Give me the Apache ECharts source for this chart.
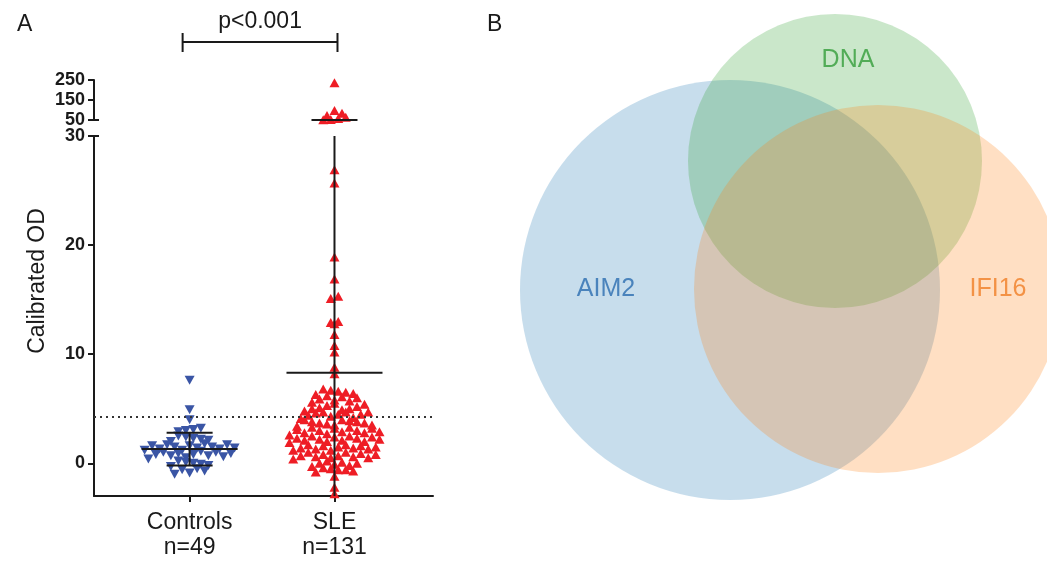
<!DOCTYPE html>
<html>
<head>
<meta charset="utf-8">
<script src="https://cdn.jsdelivr.net/npm/echarts@6/dist/echarts.min.js"></script>
<style>
  html, body { margin: 0; padding: 0; background: #fff; }
  #main { width: 1047px; height: 562px; }
</style>
</head>
<body>
<div id="main"></div>
<script>
// ---- panel A: calibrated OD per group ----
var groups = ['Controls', 'SLE'];
var groupN = [49, 131];

var controlsOD = [
  7.6, 4.9, 4.0,
  3.2, 3.1, 3.0, 2.9,
  2.5, 2.4, 2.3, 2.2, 2.1, 2.0,
  1.8, 1.7, 1.7, 1.6, 1.6, 1.5, 1.5, 1.4, 1.4, 1.3, 1.3, 1.2, 1.2, 1.1,
  1.0, 1.0, 0.9, 0.9, 0.8, 0.8, 0.7, 0.7, 0.6, 0.5, 0.4,
  0.2, 0.1, 0.0, -0.1, -0.2, -0.3,
  -0.5, -0.6, -0.7, -0.9, -1.0
];

var sleOD = [
  236, 98, 84, 73, 64, 58, 53, 51,
  26.9, 25.7, 18.9, 16.9, 15.3, 15.1, 13.0, 12.9, 12.8, 11.8, 10.8, 10.2, 8.8, 8.2,
  -2.8, -2.2, -1.2,
  -0.8, -0.7, -0.6, -0.6, -0.5, -0.4,
  -0.3, -0.2, -0.1, 0.0, 0.0, 0.1, 0.2,
  0.4, 0.5, 0.5, 0.6, 0.6, 0.7, 0.7, 0.8, 0.8, 0.9, 1.0, 1.0,
  1.2, 1.2, 1.3, 1.3, 1.4, 1.4, 1.5, 1.5, 1.6, 1.6, 1.7, 1.7,
  1.9, 2.0, 2.0, 2.1, 2.1, 2.2, 2.2, 2.3, 2.3, 2.4, 2.4, 2.5, 2.5,
  2.6, 2.7, 2.8, 2.8, 2.9, 2.9, 3.0, 3.0, 3.1, 3.2, 3.2, 3.3,
  3.3, 3.4, 3.5, 3.5, 3.6, 3.7, 3.7, 3.8, 3.8, 3.9, 4.0, 4.0,
  4.1, 4.2, 4.3, 4.4, 4.5, 4.5, 4.6, 4.7, 4.7, 4.7,
  4.8, 4.9, 5.0, 5.0, 5.1, 5.2, 5.3, 5.4,
  5.5, 5.6, 5.7, 5.8, 5.9, 6.0, 6.1, 6.2,
  6.3, 6.4, 6.5, 6.6, 6.7, 6.8
];

var groupMean = [1.3, 8.3];
var groupSD = [1.5, 42];
var cutoffOD = 4.3;
var pValueText = 'p<0.001';
var lowerTicks = [0, 10, 20, 30];
var upperTicks = [50, 150, 250];

// ---- panel B: venn ----
var vennNames = ['AIM2', 'DNA', 'IFI16'];
var vennX = [2.50, 3.55, 3.98];
var vennY = [2.72, 4.01, 2.73];
var vennR = [2.10, 1.47, 1.84];
var vennLabelX = [1.26, 3.68, 5.18];
var vennLabelY = [2.73, 5.02, 2.73];
var vennColors = ['#1f77b4', '#2ca02c', '#ff7f0e'];
var vennTextColors = ['#2a6db0', '#339e3a', '#f07e26'];

var FONT = "'Liberation Sans', Arial, sans-serif";
var INK = '#1a1a1a';
var BREAK_LO = 30, BREAK_HI = 50;

var chart = echarts.init(document.getElementById('main'));

// mean line + SD whiskers, clipped to the grid they sit in
function summaryItem(params, api) {
  var cs = params.coordSys;
  var g = api.value(0), m = api.value(1), s = api.value(2);
  var pm = api.coord([g, m]);
  var ph = api.coord([g, m + s]);
  var pl = api.coord([g, m - s]);
  var top = cs.y, bot = cs.y + cs.height;
  var st = { stroke: INK, lineWidth: 2 };
  var kids = [];
  var y1 = Math.max(ph[1], top), y2 = Math.min(pl[1], bot);
  if (y1 < y2) kids.push({ type: 'line', shape: { x1: pm[0], y1: y1, x2: pm[0], y2: y2 }, style: st });
  if (pm[1] >= top && pm[1] <= bot) kids.push({ type: 'line', shape: { x1: pm[0] - 48, y1: pm[1], x2: pm[0] + 48, y2: pm[1] }, style: st });
  if (ph[1] >= top - 1 && ph[1] <= bot) kids.push({ type: 'line', shape: { x1: pm[0] - 23, y1: ph[1], x2: pm[0] + 23, y2: ph[1] }, style: st });
  if (pl[1] >= top && pl[1] <= bot + 1) kids.push({ type: 'line', shape: { x1: pm[0] - 23, y1: pl[1], x2: pm[0] + 23, y2: pl[1] }, style: st });
  return { type: 'group', children: kids };
}

function bracketItem(params, api) {
  var cs = params.coordSys;
  var p0 = api.coord([api.value(0), BREAK_HI]);
  var p1 = api.coord([api.value(1), BREAK_HI]);
  var x0 = p0[0] - 7, x1 = p1[0] + 3;
  var y = cs.y - 38;
  var st = { stroke: INK, lineWidth: 2 };
  return {
    type: 'group',
    children: [
      { type: 'line', shape: { x1: x0, y1: y, x2: x1, y2: y }, style: st },
      { type: 'line', shape: { x1: x0, y1: y - 9, x2: x0, y2: y + 10 }, style: st },
      { type: 'line', shape: { x1: x1, y1: y - 9, x2: x1, y2: y + 10 }, style: st },
      { type: 'text', x: (x0 + x1) / 2, y: cs.y - 58,
        style: { text: pValueText, fill: INK, font: '23px ' + FONT, align: 'center', verticalAlign: 'middle' } }
    ]
  };
}

function vennItem(params, api) {
  var c = api.coord([api.value(0), api.value(1)]);
  var r = api.size([api.value(2), 0])[0];
  return {
    type: 'circle',
    shape: { cx: c[0], cy: c[1], r: r },
    style: { fill: echarts.color.modifyAlpha(vennColors[params.dataIndex], 0.25) }
  };
}

var sleLow = sleOD.filter(function (v) { return v <= BREAK_LO; });
var sleHigh = sleOD.filter(function (v) { return v >= BREAK_HI; });

function pts(vals, g, offs) {
  return vals.map(function (v, i) { return [g + (offs ? offs[i] : 0), v]; });
}

var tickLabel = { fontFamily: FONT, fontSize: 18, fontWeight: 'bold', color: INK, margin: 9 };
var axisLineStyle = { onZero: false, lineStyle: { color: INK, width: 2 } };

var option = {
  animation: false,
  backgroundColor: '#fff',
  title: [
    { text: 'A', left: 12, top: 8, textStyle: { fontFamily: FONT, fontSize: 23, fontWeight: 'normal', color: INK } },
    { text: 'B', left: 482, top: 8, textStyle: { fontFamily: FONT, fontSize: 23, fontWeight: 'normal', color: INK } }
  ],
  grid: [
    { left: 94, top: 80, width: 339, height: 40 },
    { left: 94, top: 136, width: 339, height: 360 },
    { left: 480, top: 0, width: 567, height: 562 }
  ],
  xAxis: [
    { gridIndex: 0, type: 'value', min: -0.66, max: 1.68, show: false },
    {
      gridIndex: 1, type: 'value', min: -0.66, max: 1.68,
      splitLine: { show: false },
      axisLine: axisLineStyle,
      axisTick: { customValues: [0, 1], length: 6, lineStyle: { color: INK, width: 2 } },
      axisLabel: {
        customValues: [0, 1], fontFamily: FONT, fontSize: 23, color: INK, lineHeight: 25, margin: 14,
        formatter: function (v) { var i = Math.round(v); return groups[i] + '\nn=' + groupN[i]; }
      }
    },
    { gridIndex: 2, type: 'value', min: 0, max: 5.67, show: false }
  ],
  yAxis: [
    {
      gridIndex: 0, type: 'value', min: 50, max: 250,
      splitLine: { show: false },
      axisLine: axisLineStyle,
      axisTick: { customValues: upperTicks, length: 6, lineStyle: { color: INK, width: 2 } },
      axisLabel: Object.assign({ customValues: upperTicks }, tickLabel)
    },
    {
      gridIndex: 1, type: 'value', min: -3, max: 30,
      splitLine: { show: false },
      axisLine: axisLineStyle,
      axisTick: { customValues: lowerTicks, length: 6, lineStyle: { color: INK, width: 2 } },
      axisLabel: Object.assign({ customValues: lowerTicks }, tickLabel),
      name: 'Calibrated OD', nameLocation: 'middle', nameGap: 45, nameRotate: 90,
      nameTextStyle: { fontFamily: FONT, fontSize: 23, color: INK, padding: [0, 0, 0, 70] }
    },
    { gridIndex: 2, type: 'value', min: 0, max: 5.62, show: false },
    // small caps marking the axis break
    {
      gridIndex: 0, type: 'value', min: 50, max: 250, position: 'left',
      splitLine: { show: false }, axisLine: { show: false, onZero: false }, axisLabel: { show: false },
      axisTick: { customValues: [BREAK_HI], inside: true, length: 5, lineStyle: { color: INK, width: 2 } }
    },
    {
      gridIndex: 1, type: 'value', min: -3, max: 30, position: 'left',
      splitLine: { show: false }, axisLine: { show: false, onZero: false }, axisLabel: { show: false },
      axisTick: { customValues: [BREAK_LO], inside: true, length: 5, lineStyle: { color: INK, width: 2 } }
    }
  ],
  series: [
    {
      id: 'controls', type: 'scatter', xAxisIndex: 1, yAxisIndex: 1,
      symbol: 'triangle', symbolRotate: 180, symbolSize: [10, 9],
      itemStyle: { color: '#3a55a5', opacity: 1 },
      data: pts(controlsOD, 0), z: 2,
      markLine: {
        silent: true, symbol: 'none', label: { show: false },
        lineStyle: { color: '#333', width: 2, type: [2, 4] },
        data: [{ yAxis: cutoffOD }]
      }
    },
    {
      id: 'sleLow', type: 'scatter', xAxisIndex: 1, yAxisIndex: 1,
      symbol: 'triangle', symbolSize: [10, 9],
      itemStyle: { color: '#ee1d25', opacity: 1 },
      data: pts(sleLow, 1), z: 2
    },
    {
      id: 'sleHigh', type: 'scatter', xAxisIndex: 0, yAxisIndex: 0,
      symbol: 'triangle', symbolSize: [10, 9],
      itemStyle: { color: '#ee1d25', opacity: 1 },
      data: pts(sleHigh, 1), z: 2
    },
    {
      type: 'custom', xAxisIndex: 1, yAxisIndex: 1, z: 5, clip: false,
      renderItem: summaryItem,
      data: groupMean.map(function (m, i) { return [i, m, groupSD[i]]; })
    },
    {
      type: 'custom', xAxisIndex: 0, yAxisIndex: 0, z: 5, clip: false,
      renderItem: summaryItem,
      data: groupMean.map(function (m, i) { return [i, m, groupSD[i]]; })
    },
    {
      type: 'custom', xAxisIndex: 0, yAxisIndex: 0, z: 5, clip: false,
      renderItem: bracketItem,
      data: [[0, 1]]
    },
    {
      type: 'custom', xAxisIndex: 2, yAxisIndex: 2, z: 1,
      renderItem: vennItem,
      data: vennX.map(function (x, i) { return [x, vennY[i], vennR[i]]; })
    },
    {
      type: 'scatter', xAxisIndex: 2, yAxisIndex: 2, symbolSize: 0, z: 3,
      label: { show: true, position: 'inside', fontFamily: FONT, fontSize: 25,
        formatter: function (p) { return p.name; } },
      data: vennNames.map(function (n, i) {
        return { name: n, value: [vennLabelX[i], vennLabelY[i]], label: { color: vennTextColors[i] } };
      })
    }
  ]
};

chart.setOption(option);

// scatter-dot layout: points that share a pixel row are spread side by side
var ROW_H = 8, DOT_GAP = 7.5;
function gcd(a, b) { return b ? gcd(b, a % b) : a; }
function rowOffsets(vals, gridIndex, g, anchor) {
  var toPx = function (x, v) { return chart.convertToPixel({ gridIndex: gridIndex }, [x, v]); };
  var y0 = toPx(g, anchor)[1];
  var unit = toPx(1, anchor)[0] - toPx(0, anchor)[0];
  var rows = {};
  vals.forEach(function (v, i) {
    var k = Math.round((toPx(g, v)[1] - y0) / ROW_H);
    (rows[k] = rows[k] || []).push(i);
  });
  var offs = [];
  Object.keys(rows).forEach(function (k) {
    var idx = rows[k].sort(function (a, b) { return vals[a] - vals[b]; });
    var n = idx.length;
    var stride = [5, 7, 3, 2, 1].filter(function (s) { return gcd(s, n) === 1; })[0];
    idx.forEach(function (i, j) {
      var slot = (j * stride) % n;
      offs[i] = (slot - (n - 1) / 2) * DOT_GAP / unit;
    });
  });
  return offs;
}

chart.setOption({
  series: [
    { id: 'controls', data: pts(controlsOD, 0, rowOffsets(controlsOD, 1, 0, 0)) },
    { id: 'sleLow', data: pts(sleLow, 1, rowOffsets(sleLow, 1, 1, 0)) },
    { id: 'sleHigh', data: pts(sleHigh, 1, rowOffsets(sleHigh, 0, 1, BREAK_HI)) }
  ]
});
</script>
</body>
</html>
